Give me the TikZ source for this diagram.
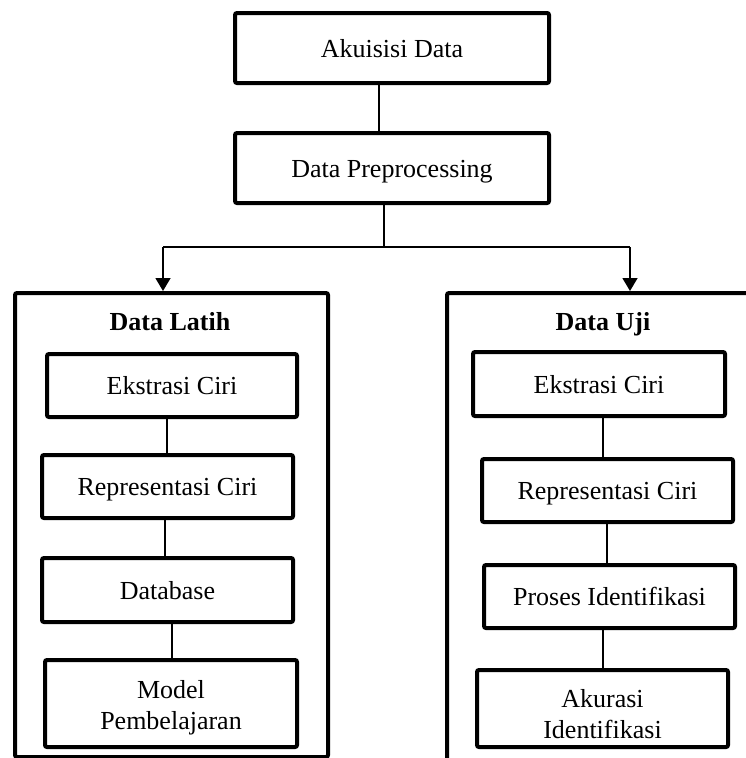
\documentclass[tikz,border=0pt]{standalone}
\usepackage{fontspec}
\setmainfont{Liberation Serif}
\usetikzlibrary{arrows.meta}
\begin{document}
\begin{tikzpicture}[x=1pt,y=-1pt,
  box/.style={draw,line width=4pt,rounded corners=2pt,inner sep=0pt,align=center,
              font=\fontsize{26}{31}\selectfont},
  single/.style={text height=18pt,text depth=0pt},
  frame/.style={draw,line width=4pt,rounded corners=2pt,inner sep=0pt},
  title/.style={font=\bfseries\fontsize{26}{31}\selectfont,anchor=base,inner sep=0pt},
  conn/.style={line width=1.5pt},
  arr/.style={line width=1.5pt,-{Triangle[length=13pt,width=15pt]}}]
\useasboundingbox (0,0) rectangle (746,758);
\clip (0,0) rectangle (746,758);

% outer frames
\node[frame,minimum width=313pt,minimum height=464pt] (latih) at (171.5,525) {};
\node[frame,minimum width=315pt,minimum height=497pt] (uji) at (604.5,541.5) {};
\node[title] (tlatih) at (170,330) {Data Latih};
\node[title] (tuji) at (603,330) {Data Uji};

% top boxes
\node[box,single,minimum width=314pt,minimum height=70pt] (akuisisi) at (392,48) {Akuisisi Data};
\node[box,single,minimum width=314pt,minimum height=70pt] (preproc) at (392,168) {Data Preprocessing};

% left column
\node[box,single,minimum width=250pt,minimum height=63pt] (ek1) at (172,385.5) {Ekstrasi Ciri};
\node[box,single,minimum width=251pt,minimum height=63pt] (rep1) at (167.5,486.5) {Representasi Ciri};
\node[box,single,minimum width=251pt,minimum height=64pt] (db) at (167.5,590) {Database};
\node[box,minimum width=252pt,minimum height=87pt] (model) at (171,703.5) {\rule{0pt}{25.7pt}Model\\Pembelajaran};

% right column
\node[box,single,minimum width=252pt,minimum height=64pt] (ek2) at (599,384) {Ekstrasi Ciri};
\node[box,single,minimum width=251pt,minimum height=63pt] (rep2) at (607.5,490.5) {Representasi Ciri};
\node[box,single,minimum width=251pt,minimum height=63pt] (proses) at (609.5,596.5) {Proses Identifikasi};
\node[box,minimum width=251pt,minimum height=77pt] (akurasi) at (602.5,708.5) {\rule{0pt}{30pt}Akurasi\\Identifikasi};

% connectors top
\draw[conn] ([xshift=-13pt]akuisisi.south) -- ([xshift=-13pt]preproc.north);
\coordinate (split) at (384,247);
\coordinate (sl) at (163,247);
\coordinate (sr) at (630,247);
\draw[conn] (preproc.south -| split) -- (split);
\draw[conn] (sl) -- (sr);
\draw[arr] (sl) -- (latih.north -| sl);
\draw[arr] (sr) -- (uji.north -| sr);

% connectors left
\draw[conn] ([xshift=-5pt]ek1.south) -- ([xshift=-0.5pt]rep1.north);
\draw[conn] ([xshift=-2.5pt]rep1.south) -- ([xshift=-2.5pt]db.north);
\draw[conn] ([xshift=4.5pt]db.south) -- ([xshift=1pt]model.north);

% connectors right
\draw[conn] ([xshift=4pt]ek2.south) -- ([xshift=-4.5pt]rep2.north);
\draw[conn] ([xshift=-0.5pt]rep2.south) -- ([xshift=-2.5pt]proses.north);
\draw[conn] ([xshift=-6.5pt]proses.south) -- ([xshift=0.5pt]akurasi.north);
\end{tikzpicture}
\end{document}
